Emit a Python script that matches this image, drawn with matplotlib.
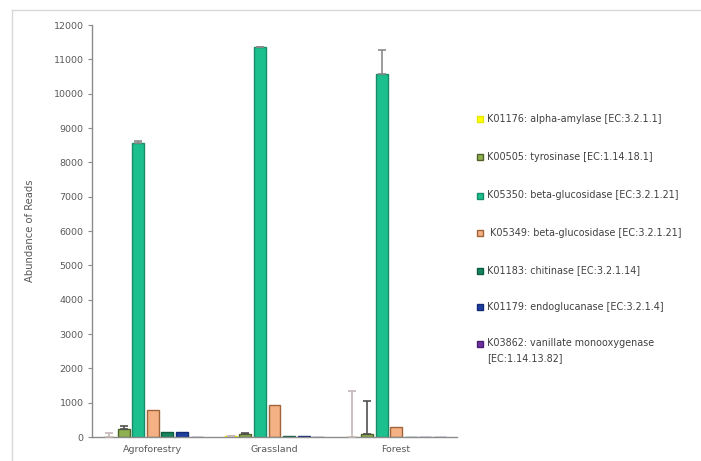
import numpy as np
import matplotlib.pyplot as plt
from matplotlib.lines import Line2D

sites = ["Agroforestry", "Grassland", "Forest"]

enzymes = [
    "K01176: alpha-amylase [EC:3.2.1.1]",
    "K00505: tyrosinase [EC:1.14.18.1]",
    "K05350: beta-glucosidase [EC:3.2.1.21]",
    " K05349: beta-glucosidase [EC:3.2.1.21]",
    "K01183: chitinase [EC:3.2.1.14]",
    "K01179: endoglucanase [EC:3.2.1.4]",
    "K03862: vanillate monooxygenase\n[EC:1.14.13.82]",
]

# mean read counts per site (Agroforestry, Grassland, Forest)
alpha_amylase = [10, 25, 5]
tyrosinase = [230, 100, 80]
bglu_k05350 = [8550, 11350, 10580]
bglu_k05349 = [790, 930, 280]
chitinase = [140, 30, 5]
endoglucanase = [140, 15, 5]
vanillate = [5, 5, 3]

# standard deviations
alpha_amylase_sd = [110, 0, 1330]
tyrosinase_sd = [90, 30, 960]
bglu_k05350_sd = [60, 0, 680]
bglu_k05349_sd = [0, 0, 0]
chitinase_sd = [0, 0, 0]
endoglucanase_sd = [0, 0, 0]
vanillate_sd = [0, 0, 0]

values = [alpha_amylase, tyrosinase, bglu_k05350, bglu_k05349,
          chitinase, endoglucanase, vanillate]
errors = [alpha_amylase_sd, tyrosinase_sd, bglu_k05350_sd, bglu_k05349_sd,
          chitinase_sd, endoglucanase_sd, vanillate_sd]

faces = ["#ffff00", "#8fb050", "#1cc08e", "#f4b183", "#16845e", "#1f3fa0", "#7030a0"]
edges = ["#e6e600", "#4f6228", "#178a68", "#a0643a", "#0f5c40", "#102a78", "#4b1f70"]
err_cols = ["#c4b6b6", "#505050", "#8a8a8a", "#808080", "#808080", "#808080", "#808080"]

fig = plt.figure(figsize=(7.01, 4.61), dpi=100)
ax = fig.add_axes([92 / 701, 24 / 461, 365 / 701, 412 / 461])

x = np.arange(len(sites))
step = 0.12
width = 0.098
for i, (vals, sd) in enumerate(zip(values, errors)):
    pos = x + (i - 3) * step
    ax.bar(pos, vals, width, color=faces[i], edgecolor=edges[i], linewidth=1.0,
           label=enzymes[i], zorder=2)
    if any(s > 0 for s in sd):
        ax.errorbar(pos, vals, yerr=[[0] * len(sd), sd], fmt="none", ecolor=err_cols[i],
                    elinewidth=1.2, capsize=3, capthick=1.2, zorder=3)

ax.set_xlim(-0.5, 2.5)
ax.set_ylim(0, 12000)
ax.set_yticks(np.arange(0, 12001, 1000))
ax.set_xticks(x)
ax.set_xticklabels(sites)
ax.tick_params(axis="y", direction="out", length=3, color="#8c8c8c", labelsize=6.8,
               labelcolor="#595959", pad=3)
ax.tick_params(axis="x", length=0, labelsize=6.8, labelcolor="#595959", pad=6)
for s in ["top", "right"]:
    ax.spines[s].set_visible(False)
for s in ["left", "bottom"]:
    ax.spines[s].set_color("#8c8c8c")
    ax.spines[s].set_linewidth(1.0)
ax.set_ylabel("Abundance of Reads", fontsize=7.2, color="#595959")
ax.yaxis.set_label_coords(-0.155, 0.5)

# legend entries placed down the right-hand side
leg_y = [119, 157, 196, 233, 271, 307, 344]
for i, y in enumerate(leg_y):
    fy = 1 - y / 461
    fig.patches.append(plt.Rectangle((477 / 701, fy - 3 / 461), 6 / 701, 6 / 461,
                                     transform=fig.transFigure, facecolor=faces[i],
                                     edgecolor=edges[i], linewidth=1.0))
    fig.text(487 / 701, fy + 5.5 / 461, enzymes[i], fontsize=6.9, color="#404040",
             va="top", ha="left", linespacing=1.6)

# chart frame
fig.add_artist(Line2D([12 / 701, 1], [1 - 10 / 461, 1 - 10 / 461],
                      transform=fig.transFigure, color="#d9d9d9", linewidth=1.0))
fig.add_artist(Line2D([12 / 701, 12 / 701], [0, 1 - 10 / 461],
                      transform=fig.transFigure, color="#d9d9d9", linewidth=1.0))

fig.savefig("out.png", dpi=100)
